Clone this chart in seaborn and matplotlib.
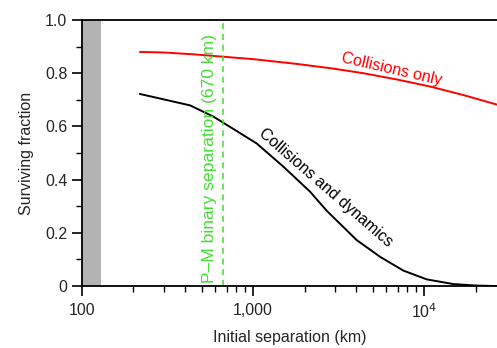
import numpy as np
import pandas as pd
import matplotlib
matplotlib.use("Agg")
import matplotlib.pyplot as plt
import seaborn as sns
from matplotlib.ticker import FixedLocator, NullFormatter, LogLocator

sns.set_theme(style="ticks")
plt.rcParams['font.family'] = ['Liberation Sans', 'DejaVu Sans']

# Data
sep_red = [218, 300, 450, 670, 1000, 1800, 2900, 4416, 7000, 10840, 16970, 26700]
frac_red = [0.880, 0.878, 0.871, 0.862, 0.853, 0.835, 0.818, 0.800, 0.776, 0.750, 0.718, 0.682]

sep_black = [218, 299, 429, 586, 670, 1050, 1503, 2153, 2697, 4034, 5530,
             7575, 10380, 14830, 20000, 26700]
frac_black = [0.722, 0.702, 0.679, 0.637, 0.614, 0.536, 0.449, 0.355, 0.283, 0.173, 0.110,
              0.058, 0.025, 0.0075, 0.002, 0.0]

pm_sep = 670
excluded = (100, 129)

df = pd.concat([
    pd.DataFrame({"sep": sep_red, "frac": frac_red, "case": "Collisions only"}),
    pd.DataFrame({"sep": sep_black, "frac": frac_black, "case": "Collisions and dynamics"}),
])

fig = plt.figure(figsize=(4.97, 3.48), dpi=100)
ax = fig.add_axes([0.165, 0.178, 0.835, 0.7645])

ax.axvspan(excluded[0], excluded[1], color="#b3b3b3", lw=0, zorder=0)
sns.lineplot(data=df, x="sep", y="frac", hue="case",
             palette={"Collisions only": "#ff0000", "Collisions and dynamics": "black"},
             lw=1.4, legend=False, ax=ax)
ax.axvline(pm_sep, color="#44dd33", ls=(0, (4, 3)), lw=1.1)

ax.set_xscale("log")
ax.set_xlim(100, 26700)
ax.set_ylim(0, 1)

ax.xaxis.set_major_locator(FixedLocator([100, 1000, 10000]))
ax.set_xticklabels(["100", "1,000", "10$^4$"])
ax.xaxis.set_minor_locator(LogLocator(base=10, subs=np.arange(2, 10)))
ax.xaxis.set_minor_formatter(NullFormatter())
ax.set_yticks([0, 0.2, 0.4, 0.6, 0.8, 1.0])
ax.set_yticklabels(["0", "0.2", "0.4", "0.6", "0.8", "1.0"])
ax.set_yticks(np.arange(0.1, 1.0, 0.2), minor=True)

ax.tick_params(which="major", direction="out", length=7, width=1.2, labelsize=11.5, color="black")
ax.tick_params(which="minor", direction="out", length=4, width=1.0, color="black")
ax.tick_params(axis="x", which="major", pad=5)

for s in ["left", "bottom", "top"]:
    ax.spines[s].set_linewidth(1.3)
    ax.spines[s].set_color("black")
ax.spines["right"].set_visible(False)

ax.set_xlabel("Initial separation (km)", fontsize=11.5, labelpad=6)
ax.set_ylabel("Surviving fraction", fontsize=11.5, labelpad=8)

ax.text(6500, 0.815, "Collisions only", color="#ff0000", fontsize=11.5,
        rotation=-13, ha="center", va="center")
ax.text(2670, 0.37, "Collisions and dynamics", color="black", fontsize=11.5,
        rotation=-41, ha="center", va="center")
ax.text(612, 0.012, "P–M binary separation (670 km)", color="#44dd33",
        fontsize=12.6, rotation=90, ha="right", va="bottom")

fig.savefig("out.png", dpi=100)
